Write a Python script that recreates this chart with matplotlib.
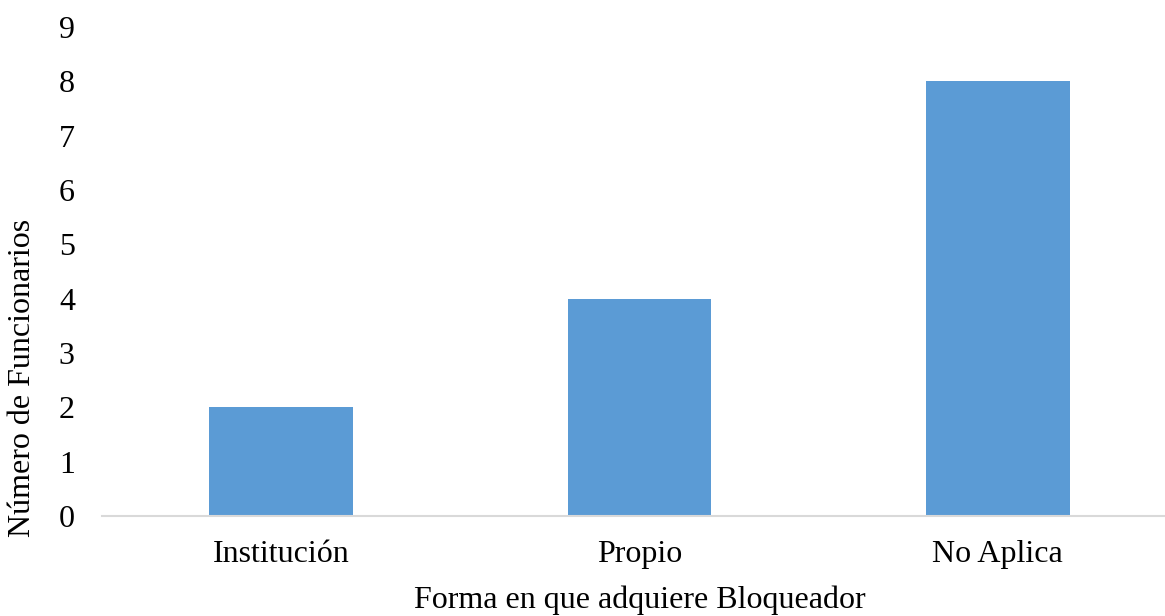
import matplotlib.pyplot as plt
import numpy as np

categorias = ['Institución', 'Propio', 'No Aplica']
funcionarios = [2, 4, 8]

plt.rcParams['font.family'] = ['Liberation Serif', 'DejaVu Serif']

fig = plt.figure(figsize=(11.65, 6.16), dpi=100)
ax = fig.add_axes([102 / 1165, 100 / 616, 1075 / 1165, 489 / 616])

x = np.arange(len(categorias))
ax.bar(x, funcionarios, width=0.4, color='#5B9BD5', zorder=2)

ax.set_xlim(-0.5, 2.5)
ax.set_ylim(0, 9)
ax.set_yticks(range(0, 10))
ax.set_xticks(x)
ax.set_xticklabels(categorias)

for s in ['top', 'right', 'left']:
    ax.spines[s].set_visible(False)
ax.spines['bottom'].set_color('#D9D9D9')
ax.spines['bottom'].set_linewidth(1.5)

ax.tick_params(axis='both', length=0, labelsize=23, colors='black')
ax.tick_params(axis='y', pad=19.5)
ax.tick_params(axis='x', pad=17)

ax.set_xlabel('Forma en que adquiere Bloqueador', fontsize=23)
ax.xaxis.set_label_coords(0.5, -0.172)
ax.xaxis.label.set_va('center')
ax.set_ylabel('Número de Funcionarios', fontsize=23)
ax.yaxis.set_label_coords(-0.0605, 0.282)

fig.savefig('out.png', dpi=100)
